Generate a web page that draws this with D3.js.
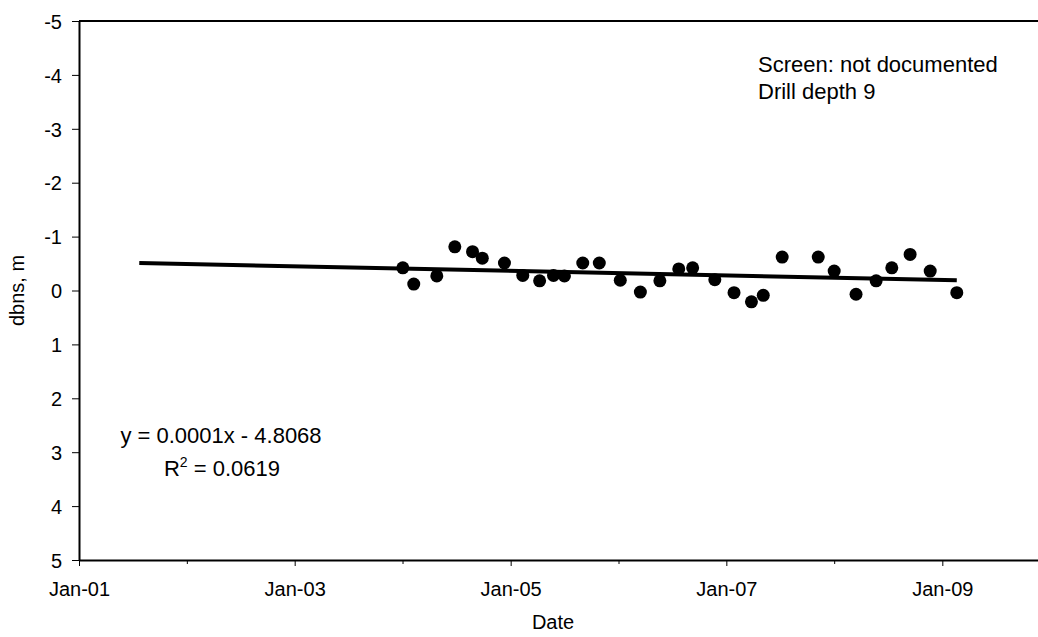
<!DOCTYPE html>
<html>
<head>
<meta charset="utf-8">
<script src="https://cdn.jsdelivr.net/npm/d3@7"></script>
<style>
  body { margin: 0; background: #fff; }
  svg { display: block; font-family: "Liberation Sans", Arial, sans-serif; }
  .axis path, .axis line { stroke: #000; }
  .axis text { fill: #000; font-size: 20px; }
</style>
</head>
<body>
<div id="chart"></div>
<script>
// observation dates and depth below surface (m)
var obsDates = [
  "2004-01-02", "2004-02-08", "2004-04-26", "2004-06-26", "2004-08-25", "2004-09-27",
  "2004-12-11", "2005-02-11", "2005-04-09", "2005-05-26", "2005-07-02", "2005-09-02",
  "2005-10-28", "2006-01-07", "2006-03-16", "2006-05-21", "2006-07-24", "2006-09-09",
  "2006-11-23", "2007-01-27", "2007-03-27", "2007-05-06", "2007-07-09", "2007-11-08",
  "2008-01-01", "2008-03-15", "2008-05-22", "2008-07-14", "2008-09-14", "2008-11-21",
  "2009-02-19"
];
var obsDepth = [
  -0.42, -0.12, -0.27, -0.81, -0.72, -0.60,
  -0.51, -0.28, -0.18, -0.28, -0.27, -0.51,
  -0.51, -0.19, 0.03, -0.18, -0.40, -0.42,
  -0.20, 0.04, 0.21, 0.09, -0.62, -0.62,
  -0.36, 0.07, -0.18, -0.42, -0.67, -0.36,
  0.04
];

// linear trendline end points
var trendDates = ["2001-07-24", "2009-02-19"];
var trendDepth = [-0.51, -0.19];

var xDomain = ["2001-01-01", "2009-12-01"];
var yDomain = [-5, 5];
var yTicks = [-5, -4, -3, -2, -1, 0, 1, 2, 3, 4, 5];
var xMajorTicks = ["2001-01-01", "2003-01-01", "2005-01-01", "2007-01-01", "2009-01-01"];
var xMinorTicks = ["2002-01-01", "2004-01-01", "2006-01-01", "2008-01-01"];

var noteLines = ["Screen: not documented", "Drill depth 9"];
var eqnText = "y = 0.0001x - 4.8068";
var r2Value = "0.0619";

var parse = d3.utcParse("%Y-%m-%d");

var W = 1038, H = 637;
var margin = {top: 21, right: 0, bottom: 77, left: 79},
    plotRight = 1041;

var svg = d3.select("#chart").append("svg")
  .attr("width", W)
  .attr("height", H);

var xScale = d3.scaleUtc()
  .domain(xDomain.map(parse))
  .range([margin.left, plotRight]);

var yScale = d3.scaleLinear()
  .domain(yDomain)
  .range([margin.top, H - margin.bottom]);

var yBottom = H - margin.bottom;

// top border of plot area
svg.append("line")
  .attr("x1", margin.left).attr("x2", plotRight)
  .attr("y1", margin.top).attr("y2", margin.top)
  .attr("stroke", "#000")
  .attr("stroke-width", 2);

// minor ticks on x
svg.append("g")
  .attr("class", "axis")
  .attr("transform", "translate(0," + yBottom + ")")
  .call(d3.axisBottom(xScale)
    .tickValues(xMinorTicks.map(parse))
    .tickSize(4)
    .tickSizeOuter(0)
    .tickFormat(""))
  .call(function(g) { g.select(".domain").remove(); })
  .selectAll("line").attr("stroke-width", 1);

// x axis
var xAxis = svg.append("g")
  .attr("class", "axis")
  .attr("transform", "translate(0," + yBottom + ")")
  .call(d3.axisBottom(xScale)
    .tickValues(xMajorTicks.map(parse))
    .tickSize(6)
    .tickSizeOuter(0)
    .tickFormat(d3.utcFormat("%b-%y")));
xAxis.select(".domain").attr("stroke-width", 2);
xAxis.selectAll("text").attr("y", 22).attr("dy", "0.71em");

// y axis
var yAxis = svg.append("g")
  .attr("class", "axis")
  .attr("transform", "translate(" + margin.left + ",0)")
  .call(d3.axisLeft(yScale)
    .tickValues(yTicks)
    .tickSize(7)
    .tickSizeOuter(0)
    .tickPadding(10)
    .tickFormat(function(d) { return String(d); }));
yAxis.select(".domain").attr("stroke-width", 2);
yAxis.selectAll("text").attr("dy", "0.36em");

// axis titles
svg.append("text")
  .attr("x", (margin.left + 1027) / 2)
  .attr("y", 629)
  .attr("text-anchor", "middle")
  .style("font-size", "20px")
  .text("Date");

svg.append("text")
  .attr("transform", "translate(24," + yScale(0) + ") rotate(-90)")
  .attr("text-anchor", "middle")
  .style("font-size", "20px")
  .text("dbns, m");

// trendline
var line = d3.line()
  .x(function(d) { return xScale(d.date); })
  .y(function(d) { return yScale(d.v); });

var trend = trendDates.map(function(d, i) { return {date: parse(d), v: trendDepth[i]}; });
svg.append("path")
  .attr("d", line(trend))
  .attr("fill", "none")
  .attr("stroke", "#000")
  .attr("stroke-width", 4);

// observations
var obs = obsDates.map(function(d, i) { return {date: parse(d), v: obsDepth[i]}; });
svg.selectAll(".dot")
  .data(obs)
  .enter().append("circle")
  .attr("class", "dot")
  .attr("r", 6.5)
  .attr("cx", function(d) { return xScale(d.date); })
  .attr("cy", function(d) { return yScale(d.v); })
  .attr("fill", "#000");

// note text
svg.append("g")
  .selectAll("text")
  .data(noteLines)
  .enter().append("text")
  .attr("x", 758)
  .attr("y", function(d, i) { return 72 + i * 26.5; })
  .style("font-size", "22px")
  .text(function(d) { return d; });

// trend equation
svg.append("text")
  .attr("x", 221)
  .attr("y", 443)
  .attr("text-anchor", "middle")
  .style("font-size", "22px")
  .text(eqnText);

var r2 = svg.append("text")
  .attr("x", 222)
  .attr("y", 476)
  .attr("text-anchor", "middle")
  .style("font-size", "22px");
r2.append("tspan").text("R");
r2.append("tspan").attr("dy", -9).style("font-size", "14px").text("2");
r2.append("tspan").attr("dy", 9).text(" = " + r2Value);
</script>
</body>
</html>
